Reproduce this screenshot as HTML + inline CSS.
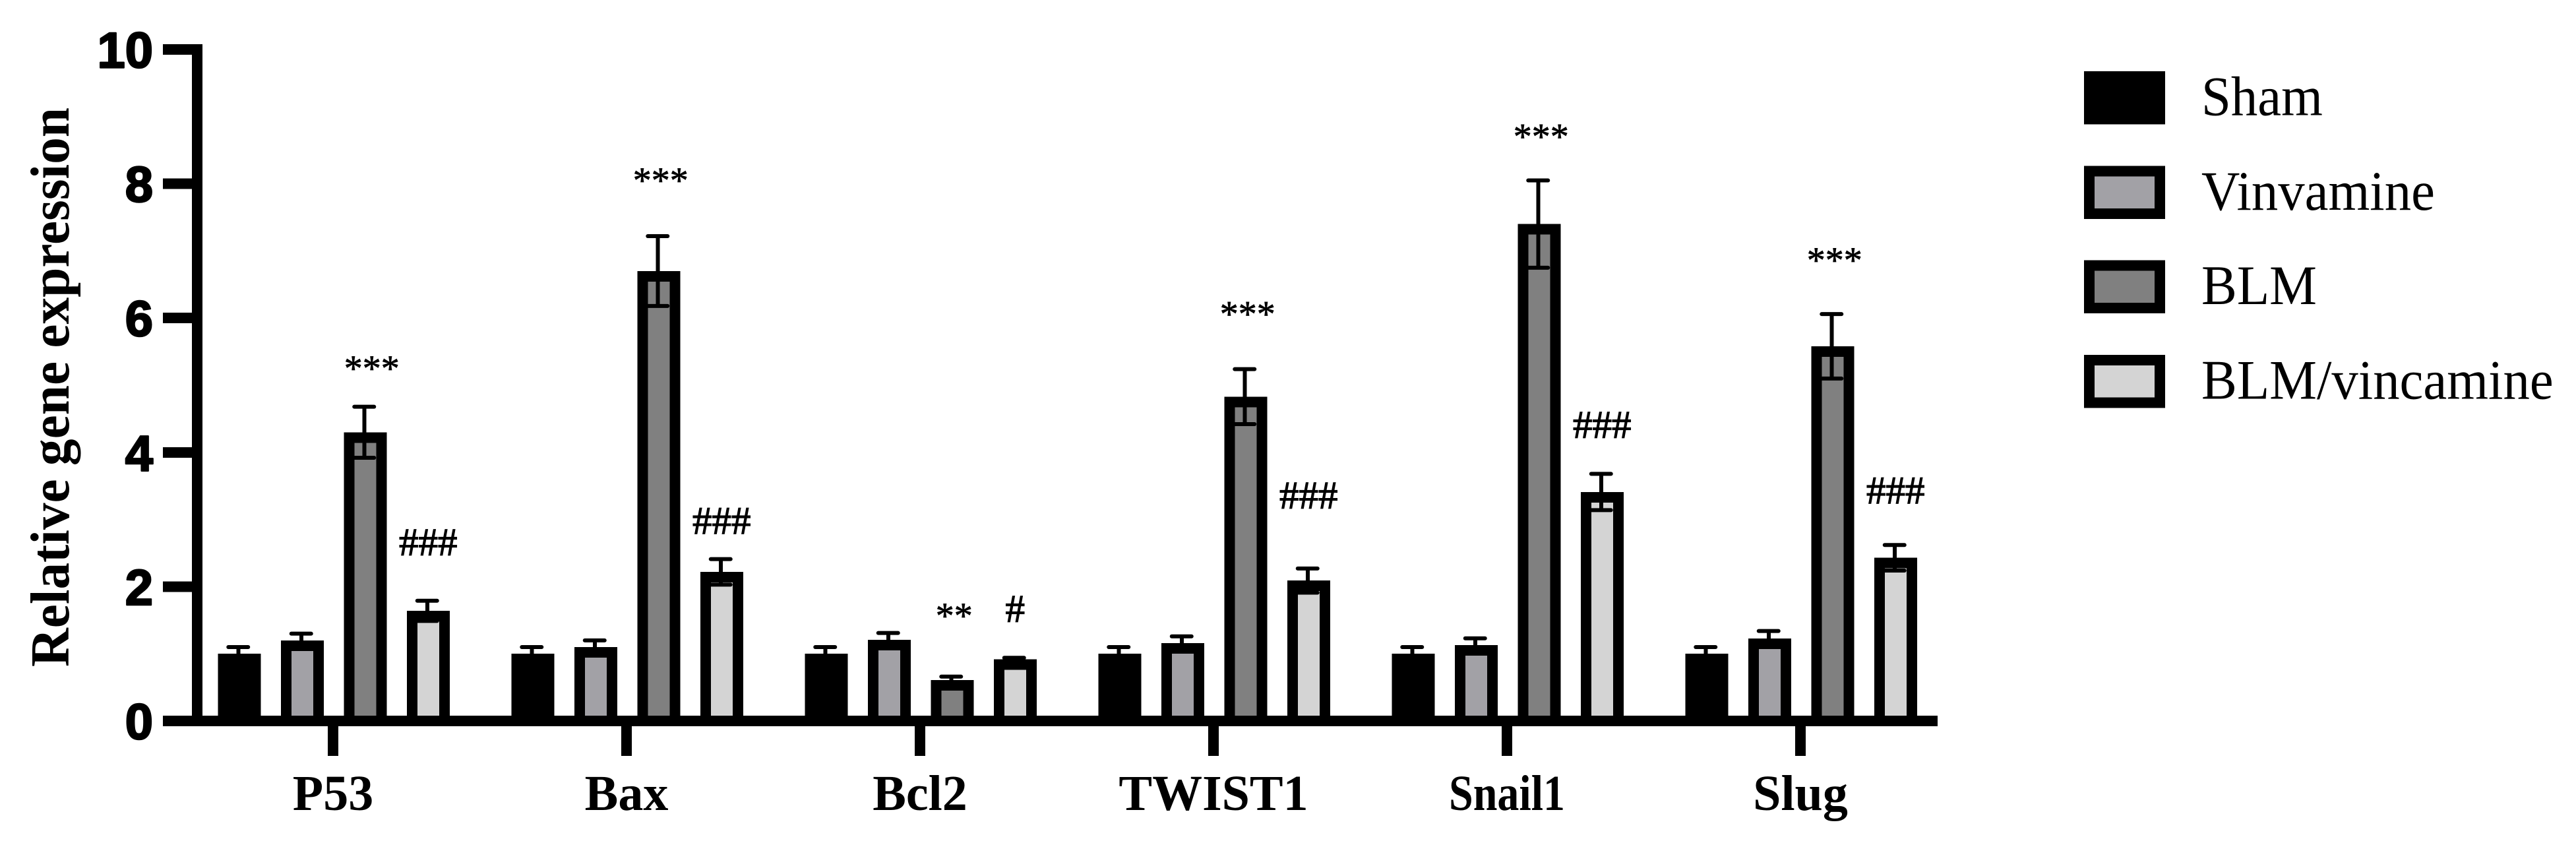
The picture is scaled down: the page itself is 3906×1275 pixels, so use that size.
<!DOCTYPE html>
<html lang="en">
<head>
<meta charset="utf-8">
<title>Relative gene expression</title>
<style>
html,body{margin:0;padding:0;background:#fff;width:3906px;height:1275px;overflow:hidden}
svg{display:block}
text{fill:#000}
.serif{font-family:"Liberation Serif",serif}
.sans{font-family:"Liberation Sans",sans-serif}
</style>
</head>
<body>
<svg id="chart" xmlns="http://www.w3.org/2000/svg" width="3906" height="1275" viewBox="0 0 3906 1275">
<rect x="0" y="0" width="3906" height="1275" fill="#fff"/>
</svg>
<script>
const categories = ['P53', 'Bax', 'Bcl2', 'TWIST1', 'Snail1', 'Slug'];
const seriesNames = ['Sham', 'Vinvamine', 'BLM', 'BLM/vincamine'];
const shamValues = [1.00, 1.00, 1.00, 1.00, 1.00, 1.00];
const vinvamineValues = [1.20, 1.10, 1.21, 1.16, 1.13, 1.23];
const blmValues = [4.30, 6.70, 0.61, 4.83, 7.40, 5.58];
const blmVincamineValues = [1.64, 2.22, 0.92, 2.09, 3.41, 2.43];
const shamErrors = [0.10, 0.10, 0.10, 0.10, 0.10, 0.10];
const vinvamineErrors = [0.10, 0.10, 0.10, 0.10, 0.10, 0.11];
const blmErrors = [0.38, 0.52, 0.05, 0.41, 0.65, 0.48];
const blmVincamineErrors = [0.15, 0.19, 0.02, 0.18, 0.27, 0.19];
const yTickLabels = [0, 2, 4, 6, 8, 10];
const blmMarks = ['***', '***', '**', '***', '***', '***'];
const blmVincamineMarks = ['###', '###', '#', '###', '###', '###'];
const blmMarkLift = [0.39, 0.65, 0.725, 0.64, 0.47, 0.62];
const blmVincamineMarkLift = [0.68, 0.38, 0.54, 0.90, 0.54, 0.62];

const svg = document.getElementById('chart');
const NS = 'http://www.w3.org/2000/svg';
function mk(tag, attrs, parent) {
  const el = document.createElementNS(NS, tag);
  for (const k in attrs) el.setAttribute(k, attrs[k]);
  (parent || svg).appendChild(el);
  return el;
}
function yAxis(v) { return 1093 - 101.8 * v; }
function xTick(i) { return 505 + 445 * i; }
function barCenter(i, s) { return xTick(i) + 1 + (s - 1.5) * 95.5; }

const seriesValues = [shamValues, vinvamineValues, blmValues, blmVincamineValues];
const seriesErrors = [shamErrors, vinvamineErrors, blmErrors, blmVincamineErrors];
const seriesFills = ['#000000', '#a2a1a6', '#808080', '#d4d4d4'];
const BAR_W = 65, BORDER = 16, BASE_Y = yAxis(0);

categories.forEach((cat, i) => {
  seriesNames.forEach((name, s) => {
    const v = seriesValues[s][i], e = seriesErrors[s][i];
    const cx = barCenter(i, s), top = yAxis(v);
    const bar = mk('rect', {
      x: cx - BAR_W / 2 + BORDER / 2, y: top + BORDER / 2,
      width: BAR_W - BORDER, height: Math.max(0, BASE_Y - top - BORDER / 2),
      fill: seriesFills[s], stroke: '#000', 'stroke-width': BORDER, 'shape-rendering': 'crispEdges'
    });
    
    

    const ex = cx - 1.5, yHi = yAxis(v + e), yLo = yAxis(v - e);
    const stem = mk('rect', { x: ex - 3, y: yHi, width: 6, height: yLo - yHi, fill: '#000', 'shape-rendering': 'crispEdges' });
    
    
    const capHi = mk('rect', { x: ex - 18, y: yHi - 3, width: 36, height: 6, rx: 3, fill: '#000' });
    
    
    const capLo = mk('rect', { x: ex - 18, y: yLo - 3, width: 36, height: 6, rx: 3, fill: '#000' });
    
    
  });

  const starX = barCenter(i, 2) + (i === 0 ? 10 : 3);
  const star = mk('text', {
    x: starX, y: yAxis(blmValues[i] + blmErrors[i] + blmMarkLift[i]),
    'text-anchor': 'middle', 'font-size': 56, stroke: '#000', 'stroke-width': 0.8, class: 'serif'
  });
  star.textContent = blmMarks[i];
  
  

  const hash = mk('text', {
    x: barCenter(i, 3), y: yAxis(blmVincamineValues[i] + blmVincamineErrors[i] + blmVincamineMarkLift[i]),
    'text-anchor': 'middle', 'font-size': 59, stroke: '#000', 'stroke-width': 1.2, class: 'serif'
  });
  hash.textContent = blmVincamineMarks[i];
  
  
});

const yLine = mk('rect', { x: 291, y: yAxis(10) - 8, width: 16, height: BASE_Y - yAxis(10) + 16, fill: '#000', 'shape-rendering': 'crispEdges' });


const xLine = mk('rect', { x: 247, y: BASE_Y - 8, width: 2691, height: 16, fill: '#000', 'shape-rendering': 'crispEdges' });



yTickLabels.forEach(t => {
  const mark = mk('rect', { x: 247, y: yAxis(t) - 8, width: 60, height: 16, fill: '#000', 'shape-rendering': 'crispEdges' });
  
  
  const label = mk('text', {
    x: 232, y: yAxis(t) + 27.5, 'text-anchor': 'end', 'font-size': 76, 'font-weight': 700,
    stroke: '#000', 'stroke-width': 2.5, 'stroke-linejoin': 'round', class: 'sans'
  });
  label.textContent = t;
  
  
});

categories.forEach((cat, i) => {
  const mark = mk('rect', { x: xTick(i) - 8, y: BASE_Y, width: 16, height: 53, fill: '#000', 'shape-rendering': 'crispEdges' });
  
  
  const label = mk('text', {
    x: xTick(i), y: 1228, 'text-anchor': 'middle', 'font-size': 76, 'font-weight': 700, class: 'serif'
  });
  label.textContent = cat;
  if (cat === 'Snail1') {
    label.setAttribute('textLength', 176);
    label.setAttribute('lengthAdjust', 'spacingAndGlyphs');
  }
  
  
});

const yTitle = mk('text', {
  transform: 'translate(104 587) rotate(-90)', 'text-anchor': 'middle',
  'font-size': 84, 'font-weight': 700, textLength: 848, lengthAdjust: 'spacingAndGlyphs', class: 'serif'
});
yTitle.textContent = 'Relative gene expression';



const legend = mk('g', {});


seriesNames.forEach((name, s) => {
  const top = 108 + 143.3 * s;
  const swatch = mk('rect', {
    x: 3168, y: top + 8, width: 107, height: 64.5,
    fill: seriesFills[s], stroke: '#000', 'stroke-width': 16, 'shape-rendering': 'crispEdges'
  }, legend);
  
  
  const label = mk('text', {
    transform: 'translate(3338 ' + (top + 66.5) + ') scale(0.95 1)', 'font-size': 85, class: 'serif'
  }, legend);
  label.textContent = name;
  
  
});
</script>
</body>
</html>
